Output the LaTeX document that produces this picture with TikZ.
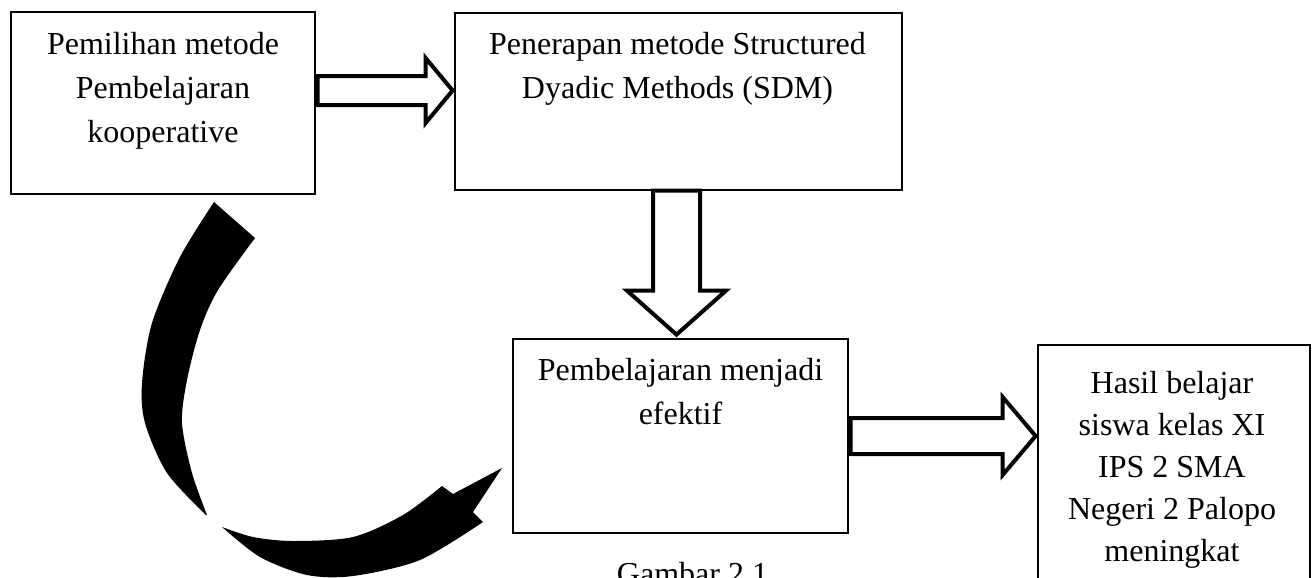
\documentclass[tikz,border=0pt]{standalone}
\usepackage{fontspec}
\setmainfont{Liberation Serif}
\usepackage{tikz}
\usetikzlibrary{calc}
\tikzset{%
    kotak/.style={draw, line width=0.6pt, inner sep=0pt},
    teks/.style={align=center, anchor=north, inner sep=0pt,
        font=\fontsize{16}{22}\selectfont},
    blok/.style={draw, fill=white, line width=2pt, line join=miter}
}

\begin{document}
\begin{tikzpicture}[x=0.5pt, y=-0.5pt]
    \useasboundingbox (0,0) rectangle (1312,578);
    \clip (0,0) rectangle (1312,578);
    \node[kotak, minimum width=152pt, minimum height=91pt] (pilih) at (163,103) {};
    \node[kotak, minimum width=223.5pt, minimum height=88.5pt] (terap) at (678.5,101.5) {};
    \node[kotak, minimum width=167.5pt, minimum height=97pt] (efektif) at (680.5,436) {};
    \node[kotak, minimum width=136pt, minimum height=177.5pt] (hasil) at (1174,522.5) {};
    \node[teks] (pilih-t) at ($(pilih.north)+(0,20)$) {Pemilihan metode\\Pembelajaran\\kooperative};
    \node[teks] (terap-t) at ($(terap.north)+(-1,19)$) {Penerapan metode Structured\\Dyadic Methods (SDM)};
    \node[teks] (efektif-t) at ($(efektif.north)+(0,19)$) {Pembelajaran menjadi\\efektif};
    \node[teks, font=\fontsize{16}{21}\selectfont] (hasil-t) at ($(hasil.north)+(-2,26)$) {Hasil belajar\\siswa kelas XI\\IPS 2 SMA\\Negeri 2 Palopo\\meningkat};
    \node[teks] (judul) at ($(efektif.south)+(12,28)$) {Gambar 2.1};
    \begin{scope}[shift={($(pilih.east)+(0,-12.5)$)}]
        \draw[blok] (2,-14.5) -- (110,-14.5) -- (110,-32.5) -- (137,0) -- (110,32.5) -- (110,14.5) -- (2,14.5) -- cycle;
    \end{scope}
    \begin{scope}[shift={($(terap.south)+(-2,0)$)}]
        \draw[blok] (-23.5,0) -- (-23.5,100) -- (-49.5,100) -- (0,144) -- (49.5,100) -- (23.5,100) -- (23.5,0) -- cycle;
    \end{scope}
    \begin{scope}[shift={(efektif.east)}]
        \draw[blok] (2,-18) -- (154,-18) -- (154,-39) -- (187,0) -- (154,39) -- (154,18) -- (2,18) -- cycle;
    \end{scope}
    \fill plot[smooth] coordinates {(214,202) (180,257) (152,323) (142,383) (145,423) (167,473) (206,515)}
        -- plot[smooth] coordinates {(207,515) (192,473) (182,423) (187,380) (200,330) (218,290) (255,238)} -- cycle;
    \fill plot[smooth] coordinates {(222,527) (253,537) (293,541) (353,537) (403,515) (442,486)}
        -- (453,494) -- (502,468) -- (473,512)
        -- plot[smooth] coordinates {(483,522) (420,560) (353,576) (307,575) (260,557) (222,527)} -- cycle;
\end{tikzpicture}
\end{document}
